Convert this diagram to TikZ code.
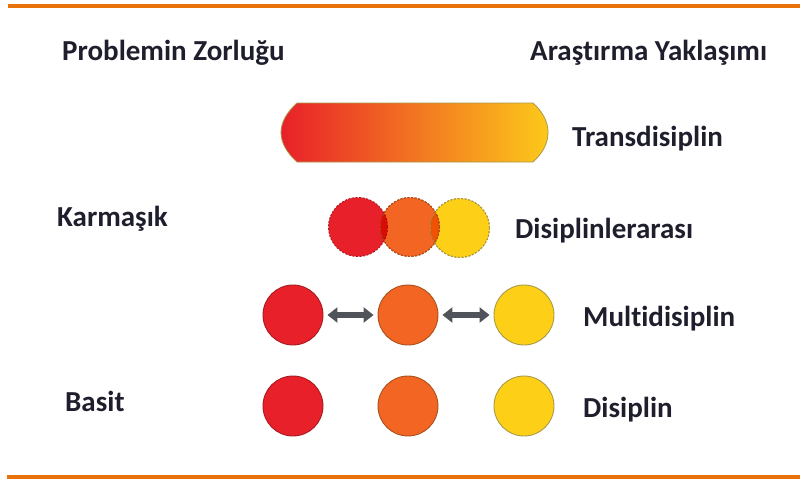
\documentclass[tikz,border=0pt]{standalone}
\usepackage{fontspec}
\setmainfont{Carlito}[Ligatures=NoCommon]
\usetikzlibrary{arrows.meta}
\definecolor{rule}{HTML}{E8710A}
\definecolor{ink}{HTML}{1E1E2C}
\definecolor{cred}{HTML}{E8202A}
\definecolor{cora}{HTML}{F26522}
\definecolor{cyel}{HTML}{FDD017}
\definecolor{bmid}{HTML}{F5871F}
\definecolor{bright}{HTML}{FCC91A}
\definecolor{ered}{HTML}{A81A22}
\definecolor{eora}{HTML}{A8501E}
\definecolor{eyel}{HTML}{A89A48}
\definecolor{arrowgray}{HTML}{50545A}
\tikzset{
  lbl/.style={anchor=base west, text=ink, inner sep=0pt,
    font=\fontsize{29}{33}\selectfont\bfseries},
  disc/.style={circle, minimum size=60pt, inner sep=0pt, line width=0.9pt},
  redd/.style={disc, fill=cred, draw=ered},
  orad/.style={disc, fill=cora, draw=eora},
  yeld/.style={disc, fill=cyel, draw=eyel},
  ovl/.style={dash pattern=on 2pt off 1.6pt, minimum size=59pt},
  link/.style={{Triangle[width=15pt,length=10pt]}-{Triangle[width=15pt,length=10pt]},
    line width=5.5pt, draw=arrowgray, shorten <=4pt, shorten >=4pt},
}
\begin{document}
\begin{tikzpicture}[x=1pt, y=-1pt]
\useasboundingbox (0,0) rectangle (800,479);

% top and bottom rules
\fill[rule] (8,3.5) rectangle (800,7.5);
\fill[rule] (7,475) rectangle (800,479);

% column headings
\node[lbl] (hprob) at (62,60) {Problemin Zorluğu};
\node[lbl] (happr) at (530,60) {Araştırma Yaklaşımı};

% transdisciplinary bar
\path[left color=cred, middle color=bmid, right color=bright,
      draw=eyel, line width=0.8pt]
  (297,103) -- (533,103)
  .. controls (543,112) and (548,122) .. (548,132.5)
  .. controls (548,143) and (543,153) .. (533,162)
  -- (297,162)
  .. controls (287,153) and (281,143) .. (281,132.5)
  .. controls (281,122) and (287,112) .. (297,103);
\node[lbl] (ttrans) at (572,146) {Transdisiplin};

% interdisciplinary: overlapping circles
\node[redd, ovl] (ir) at (358,227) {};
\node[orad, ovl, blend mode=multiply] (io) at (410,227) {};
\node[yeld, ovl, blend mode=multiply] (iy) at (460,228) {};
\node[orad, ovl, fill=none] at (410,227) {};
\node[yeld, ovl, fill=none] at (460,228) {};
\node[lbl] (tinter) at (515,238) {Disiplinlerarası};

% multidisciplinary: linked circles
\node[redd] (mr) at (293,315) {};
\node[orad] (mo) at (408,315) {};
\node[yeld] (my) at (524,315) {};
\draw[link] (mr) -- (mo);
\draw[link] (mo) -- (my);
\node[lbl] (tmulti) at (583,326) {Multidisiplin};

% disciplinary: separate circles
\node[redd] (dr) at (293,406) {};
\node[orad] (do) at (408,406) {};
\node[yeld] (dy) at (524,406) {};
\node[lbl] (tdisc) at (583,417) {Disiplin};

% difficulty scale
\node[lbl] (tcomplex) at (57,226) {Karmaşık};
\node[lbl] (tsimple) at (65,411) {Basit};
\end{tikzpicture}
\end{document}
